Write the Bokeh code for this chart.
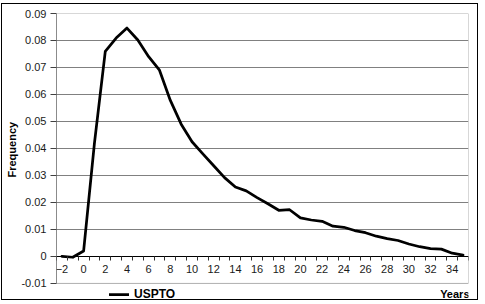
from bokeh.plotting import figure
from bokeh.models import (FixedTicker, LinearAxis, CustomJSTickFormatter, Range1d,
                          Legend, LegendItem, Grid, Label, Title)
from bokeh.embed import file_html
from bokeh.resources import INLINE

# ---- data ----
years = list(range(-2, 36))
uspto = [0.0, -0.0003, 0.002, 0.042, 0.076, 0.0809, 0.0846, 0.0802, 0.074, 0.069,
         0.0578, 0.049, 0.0425, 0.038, 0.0336, 0.0292, 0.0257, 0.0243, 0.0218, 0.0195,
         0.0171, 0.0173, 0.0143, 0.0135, 0.013, 0.0112, 0.0108, 0.0096, 0.0088, 0.0075,
         0.0066, 0.0059, 0.0046, 0.0036, 0.0029, 0.0027, 0.0012, 0.0005]
x_label_ticks = list(range(-2, 35, 2))
y_ticks = [-0.01, 0.0, 0.01, 0.02, 0.03, 0.04, 0.05, 0.06, 0.07, 0.08, 0.09]
series_name = "USPTO"
x_title = "Years"
y_title = "Frequency"

FONT = "Liberation Sans"

# ---- layout constants (pixels) ----
FRAME_W = 413
PLOT_AREA_H = 269      # height of the Excel plot area
LEGEND_STRIP = 18      # strip below the plot area, inside the frame, for legend/title
FIG_W, FIG_H = 477, 297

x_start = years[0] - 0.5
x_end = years[-1] + 0.5
boundaries = [y - 0.5 for y in years] + [x_end]
y_lo, y_hi = y_ticks[0], y_ticks[-1]
y_start = y_lo - (y_hi - y_lo) * LEGEND_STRIP / PLOT_AREA_H

p = figure(width=FIG_W, height=FIG_H, output_backend="svg", toolbar_location=None,
           x_range=Range1d(x_start, x_end), y_range=Range1d(y_start, y_hi),
           x_axis_type=None, y_axis_type=None,
           min_border_left=53, min_border_right=11, min_border_top=9, min_border_bottom=0)
p.styles = {"border": "1px solid #000000", "margin-left": "1px", "margin-top": "3px"}
p.background_fill_color = "white"
p.border_fill_color = "white"
p.outline_line_color = None

# horizontal gridlines (inner ones)
p.add_layout(Grid(dimension=1, ticker=FixedTicker(ticks=y_ticks[1:-1]),
                  grid_line_color="#808080", grid_line_width=1))

# plot-area border
p.quad(left=[x_start], right=[x_end], bottom=[y_lo], top=[y_hi],
       fill_alpha=0, line_color="#b0b0b0", line_width=1)
# value axis line
p.segment(x0=[x_start], y0=[y_lo], x1=[x_start], y1=[y_hi], line_color="#404040", line_width=1)

# y axis (ticks + labels)
yax = LinearAxis(ticker=FixedTicker(ticks=y_ticks),
                 formatter=CustomJSTickFormatter(code="return String(parseFloat(tick.toFixed(2)));"))
yax.axis_line_color = None
yax.major_tick_line_color = "#404040"
yax.major_tick_out = 6
yax.major_tick_in = 0
yax.minor_tick_line_color = None
yax.major_label_standoff = 4
yax.major_label_text_font = FONT
yax.major_label_text_font_size = "11px"
yax.major_label_text_color = "#1a1a1a"
p.add_layout(yax, "left")

# y title, placed along the plot area
p.add_layout(Title(text=y_title, align="left", offset=124, text_font=FONT,
                   text_font_size="11px", text_font_style="bold", text_color="#000000",
                   standoff=2), "left")

# x axis with tick marks at category boundaries, fixed at y=0
xtick_ax = LinearAxis(ticker=FixedTicker(ticks=boundaries), fixed_location=0,
                      formatter=CustomJSTickFormatter(code="return '';"))
xtick_ax.axis_line_color = "#000000"
xtick_ax.axis_line_width = 1
xtick_ax.major_tick_line_color = "#303030"
xtick_ax.major_tick_out = 4
xtick_ax.major_tick_in = 0
xtick_ax.minor_tick_line_color = None
p.add_layout(xtick_ax, "below")

# x axis labels at category centres
xlab_ax = LinearAxis(ticker=FixedTicker(ticks=x_label_ticks), fixed_location=0)
xlab_ax.axis_line_color = None
xlab_ax.major_tick_line_color = None
xlab_ax.minor_tick_line_color = None
xlab_ax.major_tick_out = 0
xlab_ax.major_tick_in = 0
xlab_ax.major_label_standoff = 9
xlab_ax.major_label_text_font = FONT
xlab_ax.major_label_text_font_size = "11px"
xlab_ax.major_label_text_color = "#1a1a1a"
p.add_layout(xlab_ax, "below")

r = p.line(years, uspto, line_color="#000000", line_width=2.75, line_join="round", line_cap="round")

legend = Legend(items=[LegendItem(label=series_name, renderers=[r])],
                location=(53, 0), orientation="horizontal", padding=0, margin=0, spacing=0,
                glyph_width=20, glyph_height=12, label_standoff=5,
                label_text_font=FONT, label_text_font_size="12px", label_text_font_style="bold",
                label_text_color="#000000",
                border_line_color=None, background_fill_alpha=0)
p.add_layout(legend, "center")

p.add_layout(Label(x=FRAME_W, y=2, x_units="screen", y_units="screen", text=x_title,
                   text_align="right", text_baseline="bottom", text_font=FONT,
                   text_font_size="11px", text_font_style="bold", text_color="#000000"))

open("out.html", "w").write(file_html(p, INLINE))
